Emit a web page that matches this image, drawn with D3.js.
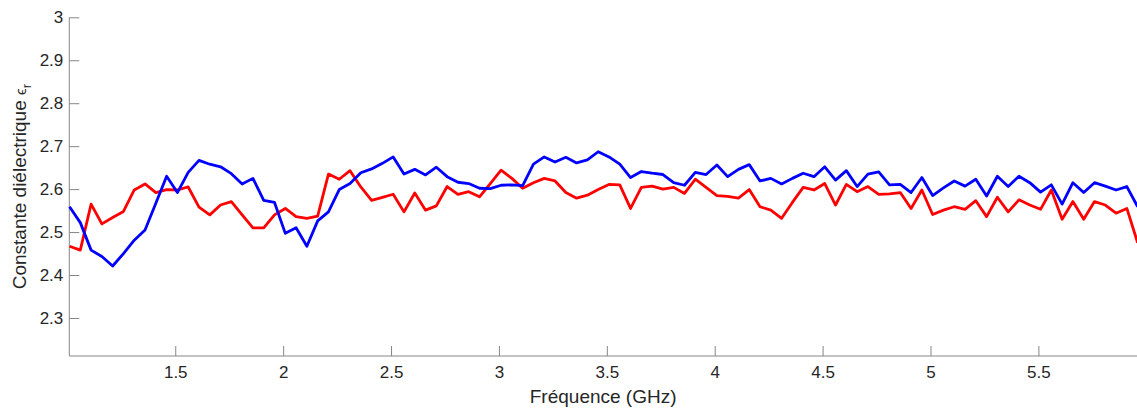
<!DOCTYPE html>
<html>
<head>
<meta charset="utf-8">
<script src="https://cdn.jsdelivr.net/npm/d3@7"></script>
<style>
  html, body { margin: 0; padding: 0; background: #fff; }
  svg { display: block; font-family: "Liberation Sans", Arial, Helvetica, sans-serif; }
</style>
</head>
<body>
<svg id="chart" width="1137" height="409"></svg>
<script>
// ---- data ----
const freqStart = 1.01;
const freqStep = 0.05;
const nPoints = 100;
const frequencies = d3.range(nPoints).map(i => +(freqStart + freqStep * i).toFixed(2));

const redSeries = [
  2.467, 2.458, 2.565, 2.519, 2.534, 2.548, 2.598, 2.612, 2.592, 2.599,
  2.598, 2.605, 2.558, 2.540, 2.563, 2.571, 2.540, 2.510, 2.510, 2.540,
  2.555, 2.536, 2.532, 2.537, 2.635, 2.623, 2.643, 2.605, 2.574, 2.581,
  2.588, 2.547, 2.591, 2.551, 2.561, 2.606, 2.588, 2.594, 2.582, 2.613,
  2.644, 2.625, 2.602, 2.615, 2.625, 2.619, 2.592, 2.579, 2.586, 2.599,
  2.611, 2.610, 2.555, 2.604, 2.607, 2.600, 2.604, 2.590, 2.623, 2.604,
  2.585, 2.583, 2.579, 2.599, 2.559, 2.551, 2.532, 2.569, 2.604, 2.598,
  2.613, 2.563, 2.611, 2.594, 2.606, 2.588, 2.589, 2.592, 2.555, 2.598,
  2.541, 2.551, 2.559, 2.553, 2.573, 2.536, 2.581, 2.547, 2.575, 2.563,
  2.553, 2.598, 2.530, 2.571, 2.530, 2.571, 2.563, 2.544, 2.555, 2.475
];

const blueSeries = [
  2.559, 2.522, 2.458, 2.443, 2.421, 2.450, 2.481, 2.505, 2.567, 2.630,
  2.592, 2.639, 2.667, 2.658, 2.652, 2.636, 2.612, 2.625, 2.574, 2.569,
  2.497, 2.510, 2.467, 2.526, 2.547, 2.599, 2.613, 2.638, 2.647, 2.660,
  2.675, 2.635, 2.646, 2.633, 2.651, 2.629, 2.616, 2.613, 2.602, 2.601,
  2.609, 2.610, 2.608, 2.658, 2.675, 2.663, 2.674, 2.661, 2.668, 2.687,
  2.675, 2.658, 2.627, 2.641, 2.637, 2.634, 2.615, 2.609, 2.639, 2.634,
  2.656, 2.629, 2.646, 2.657, 2.619, 2.625, 2.612, 2.625, 2.637, 2.629,
  2.652, 2.621, 2.643, 2.606, 2.635, 2.640, 2.610, 2.611, 2.592, 2.627,
  2.585, 2.603, 2.619, 2.607, 2.623, 2.584, 2.630, 2.606, 2.630, 2.615,
  2.593, 2.610, 2.565, 2.615, 2.592, 2.615, 2.607, 2.598, 2.606, 2.559
];

const xTicks = [1.5, 2, 2.5, 3, 3.5, 4, 4.5, 5, 5.5];
const yTicks = [2.3, 2.4, 2.5, 2.6, 2.7, 2.8, 2.9, 3];
const xDomain = [1.009, 5.957];
const yDomain = [2.2115, 3];

// ---- layout ----
const W = 1137, H = 409;
const margin = { left: 69.3, top: 17.3, right: 0, bottom: 53 };
const innerW = W - margin.left - margin.right;
const innerH = 356 - margin.top;

const svg = d3.select("#chart");
const g = svg.append("g").attr("transform", `translate(${margin.left},${margin.top})`);

const x = d3.scaleLinear().domain(xDomain).range([0, innerW]);
const y = d3.scaleLinear().domain(yDomain).range([innerH, 0]);

const axisColor = "#868686";
const textColor = "#262626";

const yAxis = g.append("g")
  .call(d3.axisLeft(y).tickValues(yTicks).tickSize(-10).tickPadding(6)
        .tickFormat(d => String(+d.toFixed(1))));
const xAxis = g.append("g").attr("transform", `translate(0,${innerH})`)
  .call(d3.axisBottom(x).tickValues(xTicks).tickSize(-10).tickPadding(10)
        .tickFormat(d => String(+d.toFixed(1))));

[yAxis, xAxis].forEach(a => {
  a.select(".domain").attr("stroke", axisColor).attr("stroke-width", 1);
  a.selectAll(".tick line").attr("stroke", axisColor).attr("stroke-width", 1);
  a.selectAll(".tick text").attr("fill", textColor)
    .style("font-size", "17px")
    .style("font-family", "'Liberation Sans', Arial, sans-serif");
});
yAxis.select(".domain").attr("d", `M0,${innerH}V0`);
xAxis.select(".domain").attr("d", `M0,0H${innerW}`);

// ---- lines ----
const line = d3.line().x((d, i) => x(frequencies[i])).y(d => y(d));

g.append("path").datum(redSeries)
  .attr("fill", "none").attr("stroke", "#ff0000").attr("stroke-width", 2.8)
  .attr("stroke-linejoin", "round").attr("d", line);

g.append("path").datum(blueSeries)
  .attr("fill", "none").attr("stroke", "#0000ff").attr("stroke-width", 2.8)
  .attr("stroke-linejoin", "round").attr("d", line);

// ---- labels ----
svg.append("text")
  .attr("x", margin.left + innerW / 2).attr("y", 403)
  .attr("text-anchor", "middle").attr("fill", textColor)
  .style("font-size", "19px")
  .text("Fréquence (GHz)");

const yl = svg.append("text")
  .attr("transform", `translate(26,${margin.top + innerH / 2}) rotate(-90)`)
  .attr("text-anchor", "middle").attr("fill", textColor)
  .style("font-size", "19px");
yl.append("tspan").text("Constante diélectrique ");
yl.append("tspan").style("font-size", "15px").text("ϵ");
yl.append("tspan").attr("dy", 5).style("font-size", "13px").text("r");
</script>
</body>
</html>
